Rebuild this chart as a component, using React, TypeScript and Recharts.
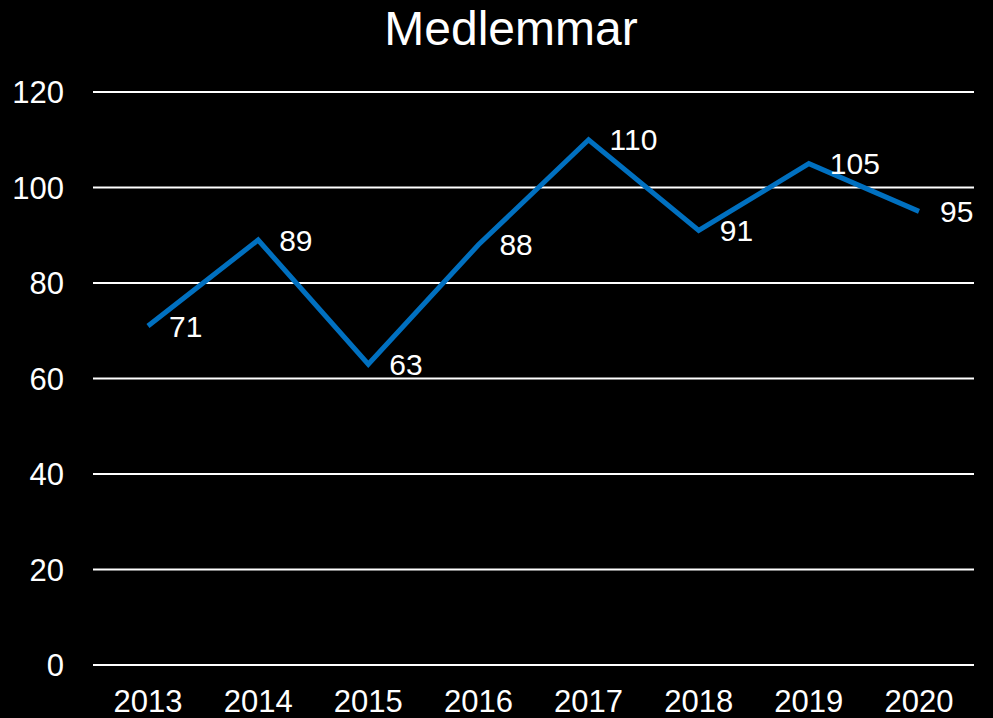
import { LineChart, Line, XAxis, YAxis, CartesianGrid, LabelList } from 'recharts'

const years = ['2013', '2014', '2015', '2016', '2017', '2018', '2019', '2020']
const members = [71, 89, 63, 88, 110, 91, 105, 95]
const yTicks = [0, 20, 40, 60, 80, 100, 120]

const FONT = '"Liberation Sans", Arial, sans-serif'

export default function App() {
    const data = years.map((year, i) => ({ year, value: members[i] }))

    return (
        <div style={{
            position: 'fixed',
            top: 0,
            left: 0,
            width: 993,
            height: 718,
            backgroundColor: '#000',
            fontFamily: FONT
        }}>
            <div style={{
                position: 'absolute',
                top: 5,
                left: 0,
                width: 1022,
                textAlign: 'center',
                color: '#fff',
                fontSize: 48,
                lineHeight: '48px'
            }}>
                Medlemmar
            </div>
            <LineChart
                width={993}
                height={718}
                data={data}
                margin={{ top: 92, right: 19, bottom: 0, left: 0 }}
                style={{ position: 'absolute', top: 0, left: 0 }}
            >
                <CartesianGrid vertical={false} stroke="#fff" strokeWidth={2} />
                <XAxis
                    dataKey="year"
                    height={53}
                    axisLine={false}
                    tickLine={false}
                    tickSize={0}
                    tickMargin={25}
                    padding={{ left: 55, right: 55 }}
                    interval={0}
                    tick={{ fill: '#fff', fontSize: 31, fontFamily: FONT }}
                />
                <YAxis
                    width={93}
                    domain={[0, 120]}
                    ticks={yTicks}
                    axisLine={false}
                    tickLine={false}
                    tickSize={0}
                    tickMargin={29}
                    tick={{ fill: '#fff', fontSize: 31, fontFamily: FONT }}
                />
                <Line
                    type="linear"
                    dataKey="value"
                    stroke="#0070C0"
                    strokeWidth={5}
                    dot={false}
                    isAnimationActive={false}
                >
                    <LabelList
                        dataKey="value"
                        position="right"
                        offset={21}
                        fill="#fff"
                        fontSize={30}
                        fontFamily={FONT}
                    />
                </Line>
            </LineChart>
        </div>
    )
}
